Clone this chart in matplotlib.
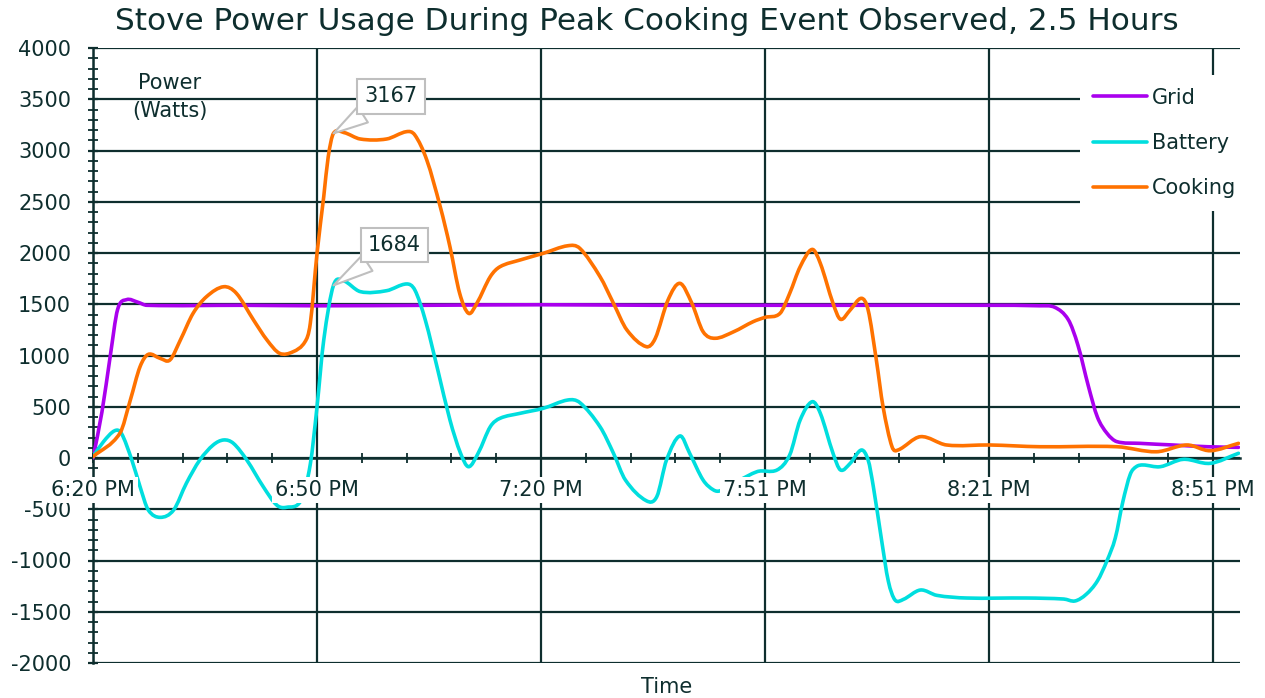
import matplotlib
matplotlib.use('Agg')
import matplotlib.pyplot as plt
from matplotlib.ticker import MultipleLocator
from matplotlib.path import Path
from matplotlib.patches import PathPatch
from matplotlib.lines import Line2D
import numpy as np

plt.rcParams['font.family'] = ['DejaVu Sans']
plt.rcParams['axes.unicode_minus'] = False

# minutes after 6:20 PM
grid_t = [0, 1.2, 2.3, 3.3, 4.5, 6.0, 7.2, 20, 30, 45, 60, 75, 90, 105, 120,
          126.8, 128.8, 130.6, 131.9, 133.3, 134.5, 135.8, 137.1, 140.2, 144.6, 149.2, 153.4]
grid_w = [0, 450, 990, 1450, 1545, 1520, 1490, 1490, 1485, 1490, 1495, 1490, 1490, 1490, 1490,
          1485, 1470, 1350, 1100, 700, 400, 240, 160, 143, 127, 110, 104]

cook_t = [0, 3.6, 5.0, 6.3, 7.4, 9.0, 10.3, 11.7, 13.4, 15.2, 17.5, 19.2, 21.5, 23.3, 25.0,
          26.8, 28.4, 29.1, 30.0, 30.9, 31.5, 32.2, 33.6, 35.8, 39.3, 42.0, 43.1, 44.7, 46.5,
          47.8, 49.1, 50.3, 51.4, 53.2, 54.5, 57.2, 60.3, 63.6, 65.2, 67.9, 69.7, 71.5, 74.1,
          75.3, 77.0, 78.6, 80.2, 81.7, 83.3, 85.8, 88.4, 90.0, 92.0, 93.3, 94.7, 96.3, 97.4,
          99.1, 100.1, 101.4, 102.9, 103.8, 104.9, 105.8, 107.0, 107.8, 110.8, 114.3, 120.1,
          126.8, 137.1, 142.4, 146.5, 149.6, 153.4]
cook_w = [13, 241, 566, 891, 1011, 972, 956, 1151, 1411, 1574, 1671, 1607, 1346, 1151, 1021,
          1037, 1135, 1314, 1997, 2550, 2939, 3167, 3175, 3112, 3112, 3184, 3151, 2907, 2452,
          2061, 1607, 1411, 1509, 1769, 1866, 1932, 1997, 2071, 2045, 1769, 1509, 1249, 1086,
          1168, 1541, 1704, 1509, 1232, 1168, 1232, 1330, 1372, 1411, 1607, 1866, 2035, 1899,
          1509, 1353, 1444, 1558, 1444, 956, 500, 110, 78, 208, 127, 127,
          110, 110, 61, 127, 71, 143]

batt_t = [0, 1.4, 2.9, 3.8, 5.2, 6.3, 7.4, 9.0, 10.8, 12.5, 14.3, 16.1, 17.5, 18.8, 20.6,
          22.8, 24.6, 25.9, 27.9, 29.1, 30.0, 30.9, 32.2, 33.5, 35.8, 39.3, 42.0, 43.1, 44.5,
          46.2, 47.8, 49.2, 50.3, 51.6, 53.2, 54.5, 57.2, 60.3, 63.6, 65.2, 67.9, 69.7, 71.3,
          74.1, 75.5, 76.8, 78.6, 79.9, 81.7, 83.1, 84.0, 88.9, 91.6, 93.3, 94.7, 96.3, 97.4,
          99.1, 100.1, 101.4, 102.9, 103.8, 104.5, 105.6, 106.5, 107.4, 108.5, 110.8, 113.0,
          117.0, 125.0, 130.0, 131.5, 133.0, 134.5, 135.8, 136.9, 137.9, 138.9, 139.7, 140.6,
          142.9, 146.0, 149.6, 153.4]
batt_w = [13, 159, 266, 241, -20, -280, -507, -579, -507, -247, -20, 127, 176, 143, -20,
          -280, -459, -481, -410, -60, 500, 1151, 1684, 1730, 1623, 1632, 1698, 1639, 1346,
          850, 371, 50, -85, 50, 305, 387, 436, 485, 566, 540, 305, 46, -215,
          -417, -377, -20, 215, 46, -215, -312, -319, -134, -117, 30, 371, 549, 436,
          46, -117, -52, 78, -20, -280, -800, -1200, -1385, -1380, -1288, -1340,
          -1366, -1366, -1376, -1395, -1330, -1200, -1000, -780, -430, -160, -85, -68,
          -85, -13, -52, 46]

tick_pos = [0, 30, 60, 90, 120, 150]
tick_lbl = ['6:20 PM', '6:50 PM', '7:20 PM', '7:51 PM', '8:21 PM', '8:51 PM']

ink = '#0e2e2e'
c_grid = '#aa00ee'
c_batt = '#00dede'
c_cook = '#ff7200'


def smooth_path(t, w):
    # cubic Hermite through the points (like Excel's smoothed line)
    t = np.asarray(t, float)
    w = np.asarray(w, float)
    n = len(t)
    m = np.empty(n)
    m[0] = (w[1] - w[0]) / (t[1] - t[0])
    m[-1] = (w[-1] - w[-2]) / (t[-1] - t[-2])
    m[1:-1] = (w[2:] - w[:-2]) / (t[2:] - t[:-2])
    verts = [(t[0], w[0])]
    codes = [Path.MOVETO]
    for i in range(n - 1):
        h = t[i + 1] - t[i]
        verts += [(t[i] + h / 3, w[i] + m[i] * h / 3),
                  (t[i + 1] - h / 3, w[i + 1] - m[i + 1] * h / 3),
                  (t[i + 1], w[i + 1])]
        codes += [Path.CURVE4] * 3
    return Path(verts, codes)


fig = plt.figure(figsize=(12.65, 6.98), dpi=100)
ax = fig.add_axes([93/1265, 1-663/698, (1240-93)/1265, (663-48)/698])
ax.set_xlim(0, 153.6)
ax.set_ylim(-2000, 4000)

handles = []
for t, w, c, name in [(grid_t, grid_w, c_grid, 'Grid'),
                      (batt_t, batt_w, c_batt, 'Battery'),
                      (cook_t, cook_w, c_cook, 'Cooking')]:
    ax.add_patch(PathPatch(smooth_path(t, w), fc='none', ec=c, lw=2.6, zorder=3,
                           capstyle='round', joinstyle='round'))
    handles.append(Line2D([], [], color=c, lw=2.6, solid_capstyle='round', label=name))

ax.set_xticks(tick_pos)
ax.xaxis.set_minor_locator(MultipleLocator(6))
ax.yaxis.set_major_locator(MultipleLocator(500))
ax.yaxis.set_minor_locator(MultipleLocator(100))
ax.grid(True, which='major', color=ink, lw=1.6)
ax.set_axisbelow(True)

for s in ['top', 'right']:
    ax.spines[s].set_visible(False)
ax.spines['bottom'].set_position(('data', 0))
ax.spines['left'].set_color(ink)
ax.spines['bottom'].set_color(ink)
ax.spines['left'].set_linewidth(1.8)
ax.spines['bottom'].set_linewidth(1.8)

ax.tick_params(axis='y', which='major', direction='inout', length=7.2, width=1.6,
               color=ink, labelsize=15, labelcolor=ink, pad=12.2)
ax.tick_params(axis='y', which='minor', direction='inout', length=6.5, width=1.3, color=ink)
ax.tick_params(axis='x', which='both', direction='inout', length=7.6, width=1.3,
               color=ink, labelbottom=False)

for p, l in zip(tick_pos, tick_lbl):
    ax.text(p, -371, l, ha='center', va='baseline', fontsize=15, color=ink, zorder=5,
            bbox=dict(boxstyle='square,pad=0.15', fc='white', ec='none'))

ax.text(10.3, 3522, 'Power\n(Watts)', ha='center', va='center', fontsize=15, color=ink,
        linespacing=1.55, multialignment='center')

fig.text(647/1265, 1-22/698, 'Stove Power Usage During Peak Cooking Event Observed, 2.5 Hours',
         ha='center', va='center', fontsize=22.4, color=ink)
ax.set_xlabel('Time', fontsize=15, color=ink)
ax.xaxis.set_label_coords(0.5, -0.023)

for tx, ty, lx, ly in [(32.2, 3167, 39.9, 3527), (32.2, 1684, 40.4, 2078)]:
    ax.annotate(f'{ty}', xy=(tx, ty), xytext=(lx, ly), ha='center', va='center',
                fontsize=15, color=ink, zorder=6,
                bbox=dict(boxstyle='square,pad=0.35', fc='white', ec='#bfbfbf', lw=1.5),
                arrowprops=dict(arrowstyle='wedge,tail_width=0.9,shrink_factor=0.5',
                                fc='white', ec='#bfbfbf', lw=1.5, shrinkA=0, shrinkB=0))

leg = ax.legend(handles=handles, loc='upper left', bbox_to_anchor=(1080/1265, 1-75/698),
                bbox_transform=fig.transFigure, borderaxespad=0, frameon=True,
                facecolor='white', edgecolor='none', framealpha=1, fancybox=False,
                fontsize=15, handlelength=2.6, handletextpad=0.25, labelspacing=1.22,
                borderpad=0.6)
for t in leg.get_texts():
    t.set_color(ink)
leg.set_zorder(7)

fig.savefig('out.png', dpi=100)
